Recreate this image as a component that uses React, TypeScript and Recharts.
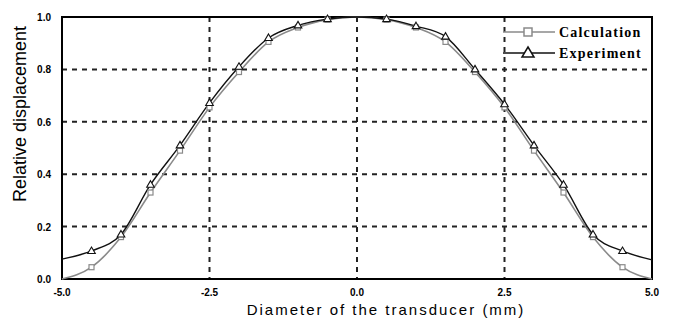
import { Line, LineChart, CartesianGrid, ReferenceArea, XAxis, YAxis } from "recharts";

// Positions across the transducer (mm) and the two measured/calculated profiles.
const positions = [-5, -4.5, -4, -3.5, -3, -2.5, -2, -1.5, -1, -0.5, 0, 0.5, 1, 1.5, 2, 2.5, 3, 3.5, 4, 4.5, 5];
const calculation = [0, 0.045, 0.16, 0.33, 0.49, 0.655, 0.79, 0.905, 0.96, 0.99, 1.0, 0.99, 0.96, 0.905, 0.79, 0.655, 0.49, 0.33, 0.16, 0.045, 0];
const experiment = [0.076, 0.107, 0.17, 0.36, 0.51, 0.672, 0.81, 0.92, 0.968, 0.992, 1.0, 0.992, 0.965, 0.925, 0.8, 0.667, 0.51, 0.36, 0.17, 0.107, 0.073];
const xTicks = [-5, -2.5, 0, 2.5, 5];
const yTicks = [0, 0.2, 0.4, 0.6, 0.8, 1.0];

const data = positions.map((x, i) => ({ x, calc: calculation[i], exp: experiment[i] }));

const GRAY = "#8a8a8a";
const BLACK = "#111";
const tickFont = { fontFamily: "Liberation Sans, Arial, sans-serif", fontSize: 10, fontWeight: 700, fill: "#000" };

function SquareDot(props: any) {
  const { cx, cy, index } = props;
  if (index === 0 || index === positions.length - 1 || positions[index] === 0) return <g key={index} />;
  return <rect key={index} x={cx - 2.5} y={cy - 2.5} width={5} height={5} fill="#fff" stroke={GRAY} strokeWidth={1.2} />;
}

function TriangleDot(props: any) {
  const { cx, cy, index } = props;
  if (index === 0 || index === positions.length - 1 || positions[index] === 0) return <g key={index} />;
  return (
    <path key={index} d={`M${cx},${cy - 4} L${cx + 3.8},${cy + 2.5} L${cx - 3.8},${cy + 2.5} Z`} fill="#fff" stroke={BLACK} strokeWidth={1.1} />
  );
}

function LegendBox() {
  const rows = [
    { label: "Calculation", color: GRAY, shape: "square" },
    { label: "Experiment", color: BLACK, shape: "triangle" },
  ];
  return (
    <svg width={150} height={44}>
      {rows.map((r, i) => {
        const y = 9 + i * 21;
        return (
          <g key={r.label}>
            <line x1={0} x2={52} y1={y} y2={y} stroke={r.color} strokeWidth={1.5} />
            {r.shape === "square" ? (
              <rect x={21} y={y - 4} width={8} height={8} fill="#fff" stroke={r.color} strokeWidth={1.5} />
            ) : (
              <path d={`M25,${y - 6} L31,${y + 4} L19,${y + 4} Z`} fill="#fff" stroke={r.color} strokeWidth={1.5} />
            )}
            <text x={56} y={y + 5} fontFamily="Liberation Serif, Times New Roman, serif" fontWeight={700} fontSize={14} letterSpacing={1.2} fill="#000">
              {r.label}
            </text>
          </g>
        );
      })}
    </svg>
  );
}

export default function App() {
  return (
    <div style={{ position: "absolute", left: 0, top: 0, width: 673, height: 320, background: "#fff" }}>
      <LineChart width={673} height={320} data={data} margin={{ top: 17, right: 21, left: 0, bottom: 0 }}>
        <CartesianGrid stroke="#222" strokeWidth={2} strokeDasharray="5 5" />
        <XAxis
          dataKey="x"
          type="number"
          domain={[-5, 5]}
          ticks={xTicks}
          height={41}
          axisLine={false}
          tickLine={false}
          tick={(p: any) => (
            <text x={p.x} y={p.y + 9} textAnchor="middle" {...tickFont}>
              {Number(p.payload.value).toFixed(1)}
            </text>
          )}
          label={() => (
            <text x={386} y={315} textAnchor="middle" fontFamily="Liberation Sans, Arial, sans-serif" fontSize={15} letterSpacing={2} fill="#000">
              Diameter of the transducer (mm)
            </text>
          )}
        />
        <YAxis
          type="number"
          domain={[0, 1]}
          ticks={yTicks}
          width={62}
          axisLine={false}
          tickLine={false}
          tick={(p: any) => (
            <text x={51} y={p.y + 4} textAnchor="end" {...tickFont}>
              {Number(p.payload.value).toFixed(1)}
            </text>
          )}
          label={() => (
            <text x={26} y={114} transform="rotate(-90 26 114)" textAnchor="middle" fontFamily="Liberation Sans, Arial, sans-serif" fontSize={18} fill="#000">
              Relative displacement
            </text>
          )}
        />
        <ReferenceArea x1={-5} x2={5} y1={0} y2={1} fill="none" stroke="#000" strokeWidth={2} ifOverflow="visible" />
        <Line type="monotone" dataKey="calc" stroke={GRAY} strokeWidth={1.6} dot={SquareDot} isAnimationActive={false} />
        <Line type="monotone" dataKey="exp" stroke={BLACK} strokeWidth={1.4} dot={TriangleDot} isAnimationActive={false} />
      </LineChart>
      <div style={{ position: "absolute", left: 503, top: 23 }}>
        <LegendBox />
      </div>
    </div>
  );
}
